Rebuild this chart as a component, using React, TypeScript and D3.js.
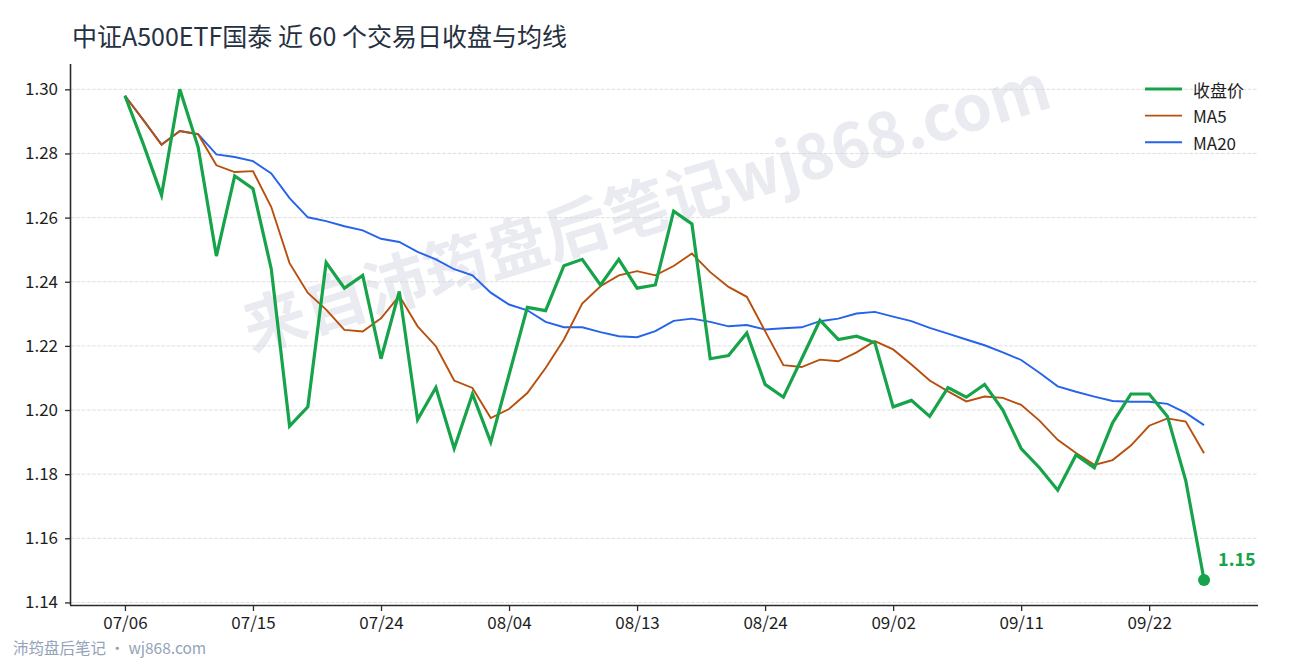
import React, { useEffect, useRef } from "react";
import * as d3 from "d3";

const W = 1290;
const H = 660;

const title = "中证A500ETF国泰 近 60 个交易日收盘与均线";

// 60 trading days, 07/06 .. 09/25
const dates = [
  "07/06", "07/07", "07/08", "07/09", "07/10", "07/13", "07/14", "07/15", "07/16", "07/17",
  "07/20", "07/21", "07/22", "07/23", "07/24", "07/27", "07/28", "07/29", "07/30", "07/31",
  "08/03", "08/04", "08/05", "08/06", "08/07", "08/10", "08/11", "08/12", "08/13", "08/14",
  "08/17", "08/18", "08/19", "08/20", "08/21", "08/24", "08/25", "08/26", "08/27", "08/28",
  "08/31", "09/01", "09/02", "09/03", "09/04", "09/07", "09/08", "09/09", "09/10", "09/11",
  "09/14", "09/15", "09/16", "09/17", "09/18", "09/21", "09/22", "09/23", "09/24", "09/25",
];

const close = [
  1.298, 1.283, 1.267, 1.300, 1.282, 1.248, 1.273, 1.269, 1.244, 1.195,
  1.201, 1.246, 1.238, 1.242, 1.216, 1.237, 1.197, 1.207, 1.188, 1.205,
  1.190, 1.211, 1.232, 1.231, 1.245, 1.247, 1.239, 1.247, 1.238, 1.239,
  1.262, 1.258, 1.216, 1.217, 1.224, 1.208, 1.204, 1.216, 1.228, 1.222,
  1.223, 1.221, 1.201, 1.203, 1.198, 1.207, 1.204, 1.208, 1.200, 1.188,
  1.182, 1.175, 1.186, 1.182, 1.196, 1.205, 1.205, 1.198, 1.178, 1.147,
];

const ma5 = [
  1.298, 1.2905, 1.2827, 1.287, 1.286, 1.2763, 1.2742, 1.2745, 1.2633, 1.2458,
  1.2365, 1.2313, 1.225, 1.2245, 1.2286, 1.2356, 1.2261, 1.2199, 1.2092, 1.2069,
  1.1975, 1.2003, 1.2053, 1.2131, 1.222, 1.2332, 1.2386, 1.242, 1.2433, 1.242,
  1.2449, 1.2488, 1.243, 1.2384, 1.2353, 1.2246, 1.214, 1.2134, 1.2157, 1.2152,
  1.218, 1.2215, 1.2189, 1.2142, 1.2092, 1.2058, 1.2027, 1.2042, 1.2038, 1.2016,
  1.1967, 1.1907, 1.1866, 1.1829, 1.1844, 1.1889, 1.1951, 1.1974, 1.1964, 1.1865,
];

const ma20 = [
  1.298, 1.2905, 1.2828, 1.287, 1.286, 1.2797, 1.2789, 1.2776, 1.2738, 1.2661,
  1.2601, 1.2589, 1.2573, 1.256, 1.2534, 1.2524, 1.2493, 1.247, 1.2439, 1.242,
  1.2366, 1.2329, 1.2311, 1.2275, 1.2258, 1.2258, 1.2243, 1.223, 1.2227, 1.2246,
  1.2278, 1.2285, 1.2275, 1.2261, 1.2265, 1.2251, 1.2255, 1.2258, 1.2277, 1.2285,
  1.2301, 1.2306, 1.2291, 1.2277, 1.2256, 1.2238, 1.222, 1.2202, 1.218, 1.2156,
  1.2116, 1.2074, 1.2057, 1.2042, 1.2028, 1.2026, 1.2026, 1.2019, 1.1991, 1.1953,
];

const xTickLabels = ["07/06", "07/15", "07/24", "08/04", "08/13", "08/24", "09/02", "09/11", "09/22"];
const yTicks = [1.14, 1.16, 1.18, 1.2, 1.22, 1.24, 1.26, 1.28, 1.3];

const series = [
  { name: "收盘价", values: close, color: "#16a34a", width: 3.2 },
  { name: "MA5", values: ma5, color: "#b84f0d", width: 1.9 },
  { name: "MA20", values: ma20, color: "#2563eb", width: 1.9 },
];

const FONT = '"Noto Sans CJK SC", "Noto Sans", sans-serif';

export default function App() {
  const svgRef = useRef<SVGSVGElement>(null);

  useEffect(() => {
    if (!svgRef.current) return;
    const svg = d3.select(svgRef.current);
    svg.selectAll("*").remove();

    const left = 71;
    const right = 1258;
    const top = 64;
    const bottom = 605;

    const x = d3.scaleLinear().domain([-2.95, dates.length - 1 + 2.95]).range([left, right]);
    const y = d3.scaleLinear().domain([1.1392, 1.3079]).range([bottom, top]);

    // watermark
    svg
      .append("text")
      .attr("x", 0)
      .attr("y", 0)
      .attr("transform", "translate(645,203) rotate(-17)")
      .attr("text-anchor", "middle")
      .attr("dominant-baseline", "central")
      .attr("font-family", FONT)
      .attr("font-weight", 700)
      .attr("font-size", 63)
      .attr("fill", "#e9ebf1")
      .text("来自沛筠盘后笔记wj868.com");

    // title
    svg
      .append("text")
      .attr("x", 72)
      .attr("y", 46)
      .attr("font-family", FONT)
      .attr("font-size", 25)
      .attr("fill", "#263040")
      .text(title);

    // grid
    svg
      .append("g")
      .selectAll("line")
      .data(yTicks)
      .join("line")
      .attr("x1", left)
      .attr("x2", right)
      .attr("y1", (d) => y(d))
      .attr("y2", (d) => y(d))
      .attr("stroke", "#d6d6d6")
      .attr("stroke-width", 0.8)
      .attr("stroke-dasharray", "3.7 1.6");

    // axes
    const yAxis = d3
      .axisLeft(y)
      .tickValues(yTicks)
      .tickSize(6)
      .tickPadding(7)
      .tickFormat((d) => d3.format(".2f")(d as number));
    const gy = svg.append("g").attr("transform", `translate(${left},0)`).call(yAxis);
    gy.select(".domain").attr("d", `M-0.5,${top}V${bottom}`).attr("stroke", "#2b2b2b").attr("stroke-width", 1.6);

    const xTickIdx = xTickLabels.map((l) => dates.indexOf(l));
    const xAxis = d3
      .axisBottom(x)
      .tickValues(xTickIdx)
      .tickSize(6)
      .tickPadding(6)
      .tickFormat((d) => dates[d as number]);
    const gx = svg.append("g").attr("transform", `translate(0,${bottom})`).call(xAxis);
    gx.select(".domain").attr("d", `M${left - 1},0.5H${right}`).attr("stroke", "#2b2b2b").attr("stroke-width", 1.6);

    [gx, gy].forEach((g) => {
      g.selectAll(".tick line").attr("stroke", "#2b2b2b").attr("stroke-width", 1.3);
      g.selectAll(".tick text")
        .attr("font-family", FONT)
        .attr("font-size", 17)
        .attr("fill", "#1e1e1e");
    });

    // lines
    const line = d3
      .line<number>()
      .x((_, i) => x(i))
      .y((d) => y(d));

    [...series].reverse().forEach((s) => {
      svg
        .append("path")
        .datum(s.values)
        .attr("fill", "none")
        .attr("stroke", s.color)
        .attr("stroke-width", s.width)
        .attr("stroke-linejoin", "miter")
        .attr("d", line);
    });

    // last close marker
    const last = close.length - 1;
    svg
      .append("circle")
      .attr("cx", x(last))
      .attr("cy", y(close[last]))
      .attr("r", 6)
      .attr("fill", "#16a34a");
    svg
      .append("text")
      .attr("x", x(last) + 14)
      .attr("y", y(close[last]) - 14)
      .attr("font-family", FONT)
      .attr("font-weight", 700)
      .attr("font-size", 18)
      .attr("fill", "#16a34a")
      .text(d3.format(".2f")(close[last]));

    // legend
    const lg = svg.append("g").attr("transform", "translate(1145,89)");
    series.forEach((s, i) => {
      const row = lg.append("g").attr("transform", `translate(0,${i * 26.6})`);
      row
        .append("line")
        .attr("x1", 0)
        .attr("x2", 37)
        .attr("stroke", s.color)
        .attr("stroke-width", s.width);
      row
        .append("text")
        .attr("x", 48)
        .attr("dominant-baseline", "central")
        .attr("font-family", FONT)
        .attr("font-size", 17)
        .attr("fill", "#1e1e1e")
        .text(s.name);
    });

    // footer
    svg
      .append("text")
      .attr("x", 13)
      .attr("y", 654)
      .attr("font-family", FONT)
      .attr("font-size", 15.5)
      .attr("fill", "#94a3b8")
      .text("沛筠盘后笔记 · wj868.com");
  }, []);

  return (
    <svg
      ref={svgRef}
      width={W}
      height={H}
      style={{ position: "absolute", left: 0, top: 0, background: "#fff", display: "block" }}
    />
  );
}
